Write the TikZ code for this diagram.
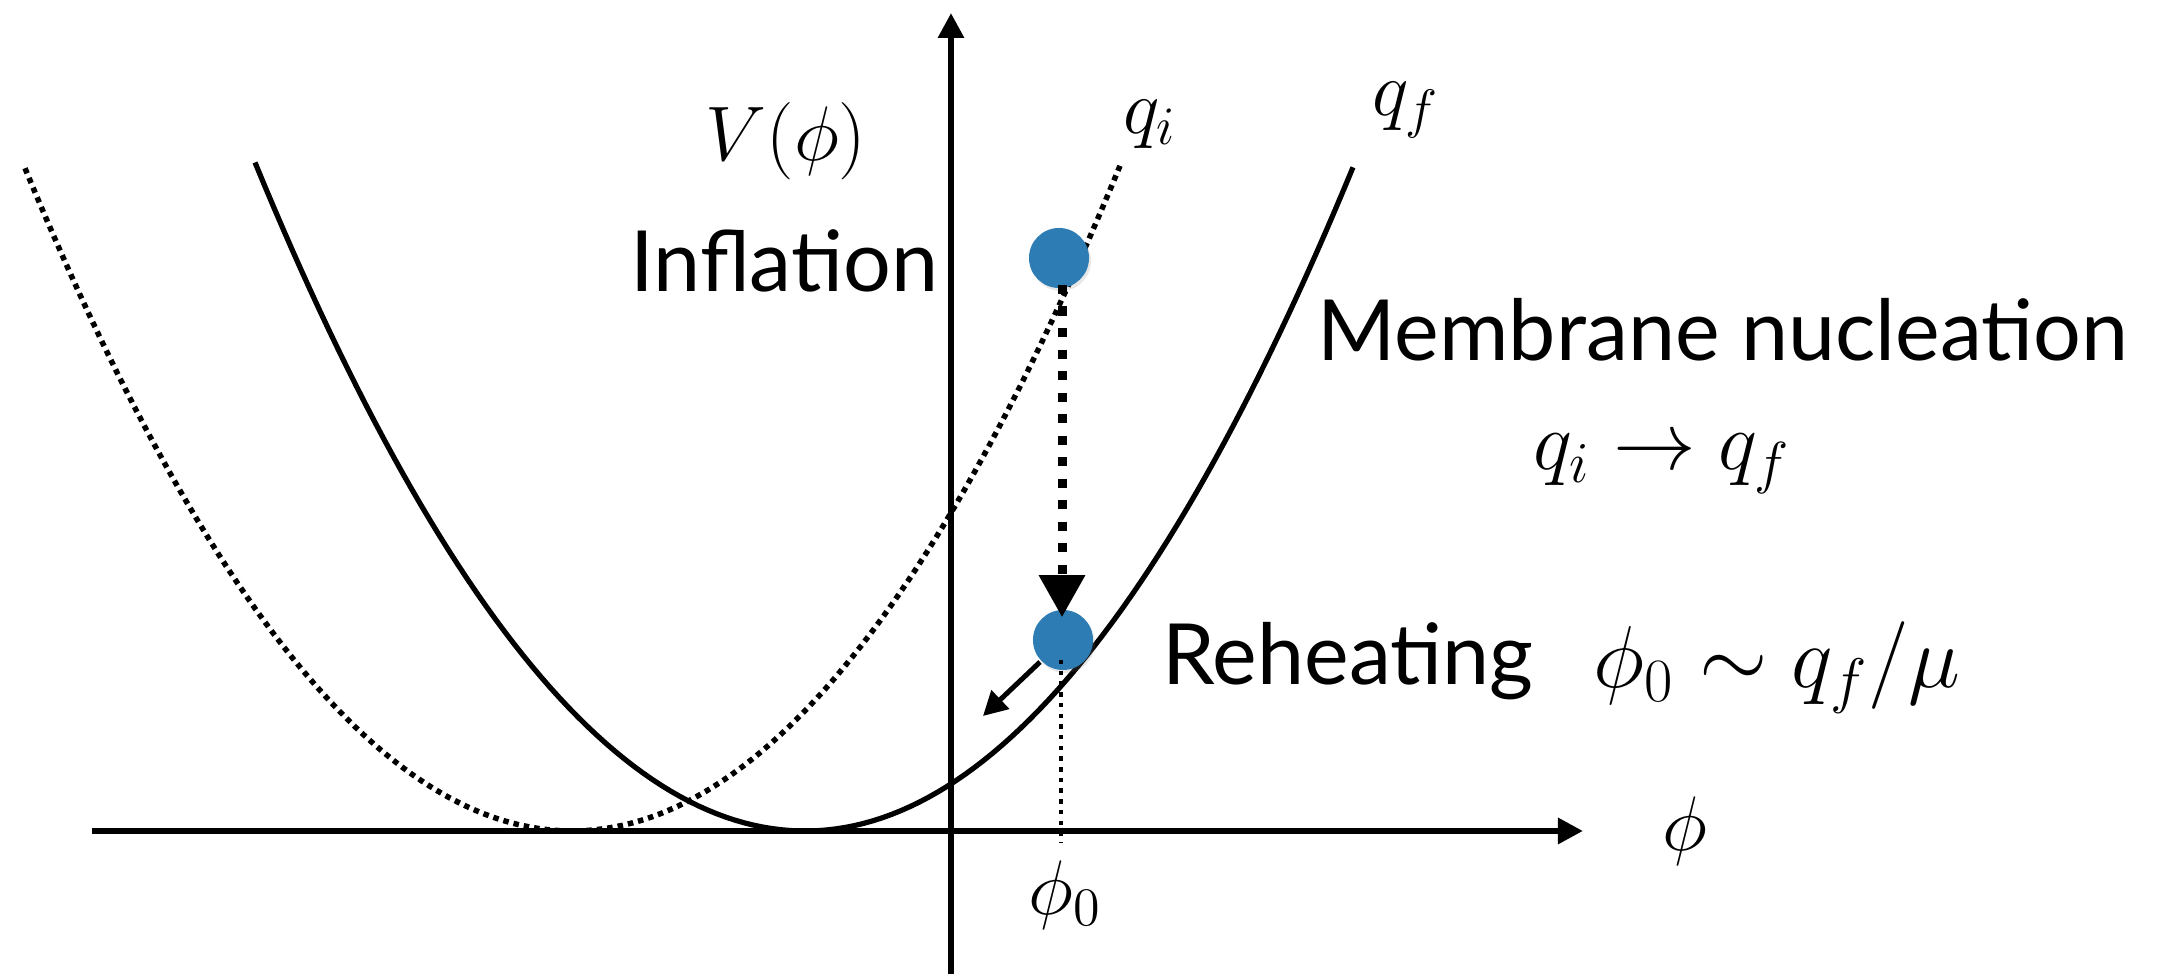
\RequirePackage{fix-cm}
\documentclass[tikz,border=0pt]{standalone}
\usepackage{fontspec}
\newfontfamily\labelfont{Lato}
\usetikzlibrary{arrows.meta,calc,shadows}
\definecolor{ballblue}{RGB}{46,124,180}
\begin{document}
\begin{tikzpicture}[x=0.01cm,y=-0.01cm,
  axis/.style={line width=0.06cm,-{Triangle[length=0.25cm,width=0.25cm]}},
  solidcurve/.style={line width=0.052cm},
  dotcurve/.style={line width=0.055cm,dash pattern=on 0.055cm off 0.05cm},
  ball/.style={circle,fill=ballblue,minimum size=0.6cm,inner sep=0pt,
    drop shadow={opacity=0.18,shadow xshift=0.02cm,shadow yshift=-0.03cm}},
  bigdash/.style={line width=0.09cm,dash pattern=on 0.09cm off 0.125cm,-{Triangle[length=0.42cm,width=0.44cm]}},
  thindots/.style={line width=0.045cm,dash pattern=on 0.045cm off 0.062cm},
  smallarrow/.style={line width=0.05cm,-{Triangle[length=0.24cm,width=0.25cm]}},
  txt/.style={font=\labelfont\fontsize{24}{28}\selectfont,inner sep=0pt},
  mth/.style={font=\fontsize{22}{26}\selectfont,inner sep=0pt}]
\useasboundingbox (0,0) rectangle (2162,974);
% axes
\coordinate (vbot) at (951,980);
\coordinate (vtop) at (951,13);
\coordinate (hleft) at (92,831);
\coordinate (hright) at (1583,831);
\draw[axis] (vbot) -- (vtop);
\draw[axis] (hleft) -- (hright);
% potentials
\draw[dotcurve] plot[domain=25:1120,samples=120] (\x,{831-22.15*((\x-572)/100)^2});
\draw[solidcurve] plot[domain=255:1353,samples=120] (\x,{831-22.1*((\x-805)/100)^2});
% balls
\node[ball] (infl) at (1059,258) {};
\node[ball] (reh) at (1063,640) {};
\draw[bigdash] ($(infl.center)+(3,27)$) -- ($(reh.north)+(-1,8)$);
\draw[thindots] ($(reh.center)+(-2,20)$) -- ($(reh.center |- hleft)+(-2,12)$);
\draw[smallarrow] ($(reh.center)+(-23,22)$) -- ++(-57,54);
% labels
\node[txt,anchor=base west] (inflation) at (630,292) {Inflation};
\node[txt,anchor=base west] (membrane) at (1317,361) {Membrane nucleation};
\node[txt,anchor=base west] (reheating) at (1162,685) {Reheating};
\node[mth] (vphi) at (786,141) {$V(\phi)$};
\node[mth] (qi) at (1150,124) {$q_i$};
\node[mth] (qf) at (1406,110) {$q_f$};
\node[mth,font=\fontsize{23.5}{28}\selectfont] (trans) at (1662,464) {$q_i\rightarrow q_f$};
\node[mth,font=\fontsize{25}{30}\selectfont,anchor=base west] (phirel) at (1593,688) {$\phi_0\sim q_f/\mu$};
\node[mth] (phi) at (1685,831) {$\phi$};
\node[mth] (phizero) at (1065,895) {$\phi_0$};
\end{tikzpicture}
\end{document}
